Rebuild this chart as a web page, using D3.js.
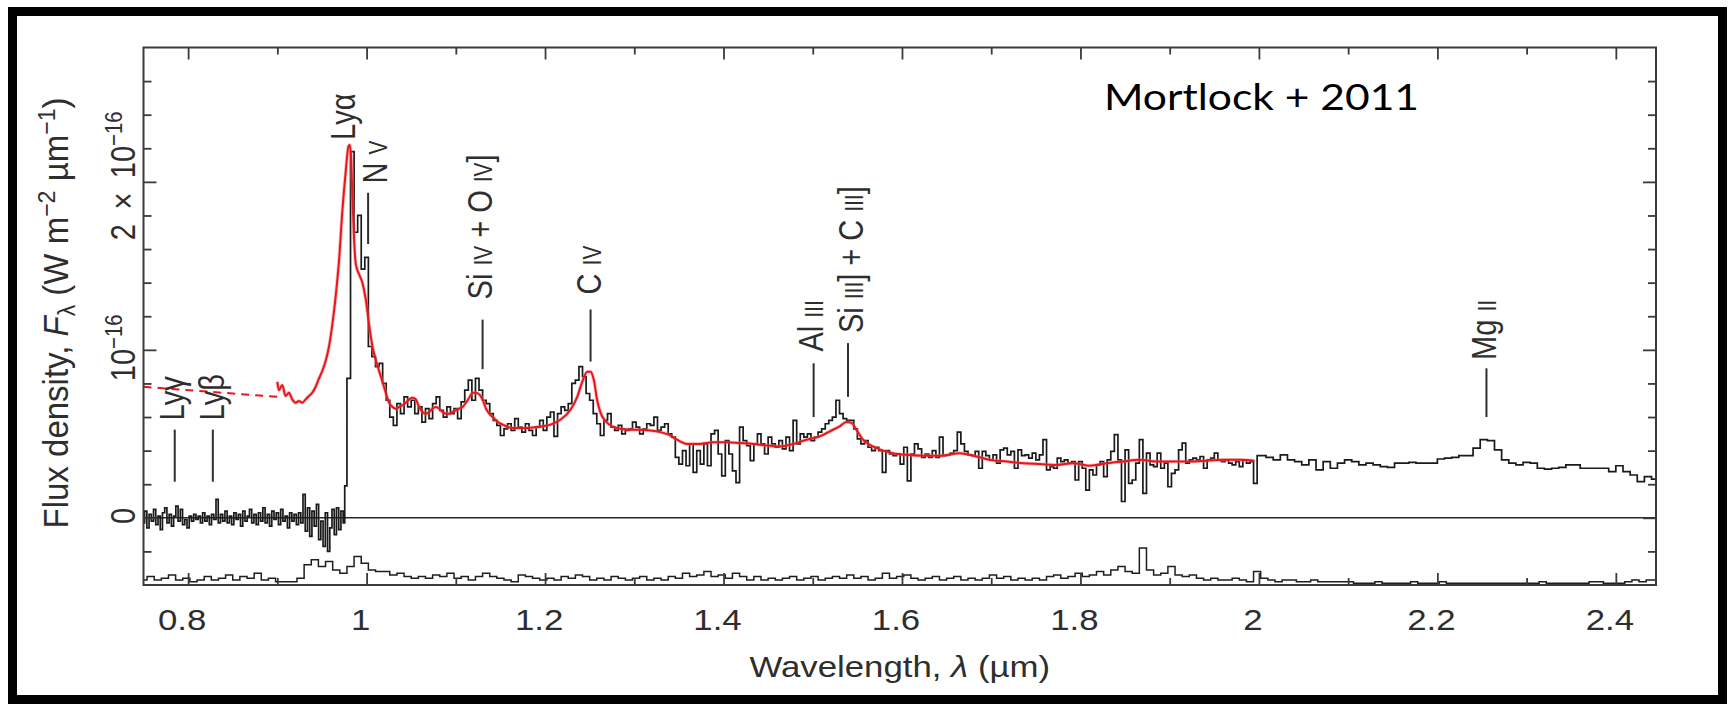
<!DOCTYPE html>
<html>
<head>
<meta charset="utf-8">
<script src="https://cdn.jsdelivr.net/npm/d3@7"></script>
<style>
  html, body { margin: 0; padding: 0; background: #fff; }
  svg { display: block; }
  .lbl { font-family: "Liberation Sans", Arial, Helvetica, sans-serif; fill: #2e2e2e; }
</style>
</head>
<body>
<svg id="chart" width="1731" height="707"></svg>
<script>
// Flux densities are in units of 1e-17 W m^-2 µm^-1, wavelengths in µm.

// optical spectrum (blueward of Lyman alpha), uniform grid
const opticalStart = 0.75, opticalStep = 0.0025;
const opticalFlux = [
  -0.3, 0.4, -0.6, 0.2, -0.2, 0.5, -0.4, 0.1, -0.7, 0.3,
  0.6, -0.3, 0.2, -0.5, 0.1, 0.7, -0.2, 0.5, -0.4, -0.1,
  -0.6, 0.1, -0.2, 0.2, -0.1, 0.1, -0.3, 0.3, -0.2, 0.1,
  -0.4, 0.2, -0.1, 1.1, -0.3, 0.2, -0.2, 0.4, -0.3, 0.1,
  -0.4, 0.3, -0.1, 0.2, -0.5, 0.4, -0.2, 0.1, 0.5, -0.3,
  0.2, -0.4, 0.3, -0.2, 0.6, -0.3, 0.2, -0.5, 0.4, -0.1,
  0.3, -0.4, 0.5, -0.2, 0.1, -0.6, 0.3, -0.2, 0.2, -0.4,
  0.3, -0.3, 1.4, -0.8, 0.6, -1.1, 0.4, -0.5, 0.8, -1.3,
  -0.2, -1.7, 0.3, -2.0, -0.6, 0.5, -1.0, 0.6, -0.7, 0.4,
  -0.3
];

// near-infrared spectrum, uniform grid
const nirStart = 0.976, nirStep = 0.004;
const nirFlux = [
  1.9, 8.3, 21.8, 17.0, 18.0, 14.8, 15.5, 10.2, 9.6, 9.0,
  9.2, 8.0, 7.0, 6.0, 5.5, 6.8, 6.2, 7.2, 6.6, 7.0,
  6.2, 6.6, 5.7, 6.5, 5.9, 6.8, 7.2, 6.4, 6.0, 6.6,
  6.2, 6.5, 5.9, 6.9, 7.6, 8.2, 7.0, 8.3, 7.6, 7.0,
  6.8, 6.2, 5.8, 5.5, 4.9, 5.3, 5.6, 5.2, 5.9, 5.4,
  5.1, 5.6, 5.2, 4.9, 5.4, 5.8, 5.2, 6.0, 6.3, 4.85,
  6.2, 6.6, 6.4, 6.8, 8.0, 8.2, 9.0, 8.4, 7.4, 7.0,
  6.2, 5.6, 4.9, 5.8, 6.2, 5.4, 5.2, 5.5, 5.0, 5.2,
  5.3, 5.7, 5.4, 5.0, 5.3, 5.6, 5.5, 6.0, 5.2, 5.4,
  5.6, 5.0, 4.8, 3.6, 3.2, 4.0, 3.1, 4.4, 2.7, 4.0,
  3.2, 4.4, 3.1, 5.0, 5.2, 3.8, 2.5, 4.6, 3.8, 2.8,
  2.1, 5.4, 4.6, 4.3, 3.4, 4.4, 5.0, 4.4, 3.8, 4.8,
  4.4, 4.2, 4.6, 4.1, 4.8, 4.0, 5.8, 4.4, 5.0, 4.8,
  5.0, 4.6, 4.8, 5.1, 5.3, 5.6, 5.8, 6.0, 7.0, 6.2,
  5.9, 5.8, 5.8, 5.3, 4.7, 4.4, 4.6, 4.2, 4.0, 4.2,
  4.0, 2.7, 4.0, 3.8, 3.7, 3.8, 3.2, 4.2, 2.2, 3.8,
  4.4, 4.1, 3.6, 3.8, 3.6, 4.0, 3.6, 4.8, 3.7, 3.75,
  3.85, 4.0, 5.1, 4.4, 3.95, 3.75, 3.7, 3.95, 2.95, 3.95,
  3.7, 3.45, 3.75, 3.25, 4.05, 4.15, 3.75, 3.95, 2.95, 4.05,
  3.7, 3.75, 3.55, 3.85, 3.45, 3.75, 4.65, 2.85, 3.05, 2.95,
  3.55, 3.35, 3.45, 3.25, 3.35, 2.25, 3.35, 2.95, 1.65, 2.85,
  2.55, 3.15, 3.35, 2.45, 3.45, 3.95, 4.95, 3.45, 0.97, 4.05,
  2.05, 2.25, 3.25, 4.65, 1.45, 3.85, 3.15, 3.05, 3.85, 2.95,
  3.25, 1.85, 2.65, 2.85, 4.05, 4.45, 3.25, 3.45, 3.55, 3.45,
  3.65, 2.95, 3.45, 3.55, 3.85, 3.45, 3.35, 3.45, 3.25, 3.15,
  3.35, 3.05, 3.45, 3.25, 3.35, 2.05, 3.7
];

// K-band spectrum, coarser grid
const kStart = 2.004, kStep = 0.008;
const kFlux = [
  3.7, 3.6, 3.45, 3.75, 3.45, 3.35, 3.15, 3.45, 2.85, 3.35,
  2.95, 3.25, 3.45, 3.35, 3.15, 3.25, 3.15, 3.05, 3.0, 3.25,
  3.25, 3.3, 3.25, 3.25, 3.25, 3.5, 3.55, 3.6, 3.7, 3.7,
  4.15, 4.65, 4.6, 4.05, 3.45, 3.25, 3.15, 3.3, 3.25, 2.95,
  2.9, 2.95, 3.0, 3.15, 3.15, 2.95, 2.95, 2.95, 2.95, 2.75,
  3.1, 2.75, 2.55, 2.15, 2.45, 2.3
];

// 1-sigma uncertainty, drawn above the lower edge of the panel
const errorBase = -4;
const errorStart = 0.75, errorStep = 0.008;
const errorFlux = [
  0.3, 0.5, 0.3, 0.4, 0.6, 0.3, 0.4, 0.2, 0.3, 0.5, 0.3,
  0.4, 0.6, 0.3, 0.5, 0.4, 0.7, 0.3, 0.4, 0.2, 0.2, 0.2, 0.4,
  1.2, 1.5, 1.1, 1.4, 0.9, 0.7, 1.1, 1.7, 1.3,
  0.9, 0.8, 0.8, 0.6, 0.7, 0.5, 0.4, 0.5, 0.4,
  0.6, 0.5, 0.7, 0.4, 0.5, 0.3, 0.5, 0.7, 0.5, 0.4,
  0.3, 0.2, 0.6, 0.5, 0.4, 0.3, 0.4, 0.3, 0.5, 0.4,
  0.6, 0.5, 0.3, 0.4, 0.3, 0.5, 0.4, 0.3, 0.4, 0.5,
  0.3, 0.4, 0.3, 0.5, 0.4, 0.7, 0.5, 0.6, 0.8, 0.5,
  0.6, 0.4, 0.7, 0.5, 0.3, 0.5, 0.3, 0.4, 0.3, 0.4,
  0.5, 0.3, 0.4, 0.5, 0.3, 0.4, 0.5, 0.4, 0.6, 0.4,
  0.5, 0.3, 0.4, 0.7, 0.4, 0.5, 0.6, 0.4, 0.3, 0.4,
  0.5, 0.3, 0.4, 0.5, 0.3, 0.4, 0.3, 0.4, 0.6, 0.4,
  0.5, 0.3, 0.4, 0.3, 0.4, 0.3, 0.5, 0.6, 0.4, 0.5,
  0.7, 0.5, 0.6, 0.8, 0.6, 0.9, 1.1, 0.8, 0.7, 2.2,
  0.9, 0.6, 0.7, 1.1, 0.6, 0.5, 0.6, 0.4, 0.3, 0.4,
  0.3, 0.3, 0.4, 0.3, 0.2, 0.8, 0.4, 0.3, 0.2, 0.3,
  0.3, 0.2, 0.2, 0.3, 0.2, 0.2, 0.2, 0.2, 0.2, 0.1,
  0.1, 0.1, 0.2, 0.1, 0.1, 0.1, 0.1, 0.2, 0.1, 0.1,
  0.1, 0.2, 0.1, 0.1, 0.1, 0.1, 0.1, 0.1, 0.1, 0.1,
  0.1, 0.1, 0.1, 0.1, 0.1, 0.2, 0.1, 0.1, 0.1, 0.1,
  0.1, 0.1, 0.2, 0.2, 0.1, 0.1, 0.1, 0.2, 0.3, 0.2, 0.3, 0.3
];

// composite quasar template (red), and its extrapolation blueward (dashed)
const modelWave = [
  0.900, 0.9018, 0.9055, 0.9093, 0.913, 0.9167, 0.9205, 0.9242, 0.928, 0.9317,
  0.9354, 0.9392, 0.9429, 0.9467, 0.9504, 0.9542, 0.9579, 0.9616, 0.9654, 0.9691,
  0.9729, 0.9766, 0.9796, 0.9811, 0.9826, 0.9841, 0.986, 0.9879, 0.9916, 0.9953,
  0.9991, 1.0028, 1.0066, 1.0103, 1.014, 1.0178, 1.0215, 1.0253, 1.029, 1.0327,
  1.0365, 1.0402, 1.044, 1.0477, 1.0514, 1.0552, 1.0589, 1.0627, 1.0664, 1.0702,
  1.0739, 1.0776, 1.0814, 1.0851, 1.0889, 1.0926, 1.0964, 1.1001, 1.1038, 1.1076,
  1.1113, 1.1151, 1.1188, 1.1225, 1.1263, 1.130, 1.1338, 1.1375, 1.1413, 1.145,
  1.1487, 1.1525, 1.1562, 1.1637, 1.1749, 1.1862, 1.1974, 1.2063, 1.2175, 1.2287,
  1.2361, 1.2417, 1.2473, 1.251, 1.2547, 1.2584, 1.2622, 1.2678, 1.2752, 1.2845,
  1.2957, 1.3068, 1.318, 1.3292, 1.3385, 1.3478, 1.359, 1.3739, 1.3888, 1.4036,
  1.4185, 1.4334, 1.4483, 1.4632, 1.4781, 1.493, 1.5079, 1.5191, 1.5302, 1.5377,
  1.5433, 1.5488, 1.5563, 1.5675, 1.5786, 1.5898, 1.6047, 1.6233, 1.642, 1.665,
  1.680, 1.6986, 1.7173, 1.736, 1.7547, 1.7733, 1.792, 1.8107, 1.8294, 1.848,
  1.8667, 1.8854, 1.904, 1.9228, 1.9414, 1.960, 1.9788, 1.995
];
const modelFlux = [
  8.1, 7.6, 7.9, 7.25, 7.45, 7.05, 6.85, 6.95, 6.85, 7.05,
  7.25, 7.45, 7.8, 8.3, 8.75, 9.35, 10.2, 11.5, 13.2, 15.3,
  18.3, 20.6, 22.1, 22.2, 21.5, 19.1, 16.6, 15.1, 14.5, 14.0,
  13.0, 11.5, 10.2, 9.4, 8.75, 8.1, 7.45, 6.85, 6.6, 6.5,
  6.6, 6.7, 6.85, 7.05, 7.15, 7.05, 6.6, 6.3, 6.2, 6.3,
  6.5, 6.6, 6.5, 6.3, 6.2, 6.2, 6.3, 6.4, 6.5, 6.6,
  6.85, 7.15, 7.45, 7.45, 7.35, 7.05, 6.5, 6.2, 6.0, 5.8,
  5.65, 5.55, 5.45, 5.35, 5.35, 5.38, 5.45, 5.55, 5.85, 6.45,
  7.2, 8.1, 8.7, 8.7, 8.2, 7.0, 6.25, 5.75, 5.45, 5.3,
  5.25, 5.25, 5.2, 5.1, 4.95, 4.65, 4.4, 4.4, 4.5, 4.5,
  4.45, 4.4, 4.3, 4.25, 4.4, 4.65, 4.85, 5.15, 5.45, 5.7,
  5.65, 5.25, 4.65, 4.25, 4.0, 3.85, 3.75, 3.7, 3.7, 3.85,
  3.7, 3.45, 3.35, 3.25, 3.2, 3.15, 3.25, 3.1, 3.25, 3.35,
  3.45, 3.35, 3.35, 3.35, 3.4, 3.45, 3.45, 3.4
];
const extrapWave = [0.75, 0.90];
const extrapFlux = [7.8, 7.2];

// axis ticks
const xTickValues = [0.8, 1.0, 1.2, 1.4, 1.6, 1.8, 2.0, 2.2, 2.4];
const xTickLabels = ["0.8", "1", "1.2", "1.4", "1.6", "1.8", "2", "2.2", "2.4"];
const xMinorTicks = [0.9, 1.1, 1.3, 1.5, 1.7, 1.9, 2.1, 2.3];
const yTickValues = [0, 10, 20];
const yTickMantissa = ["0", "10", "2\u2002×\u200210"];
const yTickExponent = ["", "−16", "−16"];
const yMinorTicks = [-2, 2, 4, 6, 8, 12, 14, 16, 18, 22, 24, 26];

// emission / absorption line identifications: [text, smallCaps]
const lineText = [
  [["Lyγ", 0]],
  [["Lyβ", 0]],
  [["Lyα", 0]],
  [["N ", 0], ["V", 1]],
  [["Si ", 0], ["IV", 1], [" + O ", 0], ["IV", 1], ["]", 0]],
  [["C ", 0], ["IV", 1]],
  [["Al ", 0], ["III", 1]],
  [["Si ", 0], ["III", 1], ["] + C ", 0], ["III", 1], ["]", 0]],
  [["Mg ", 0], ["II", 1]]
];
const lineLabelWave = [0.781, 0.826, 0.973, 1.009, 1.127, 1.249, 1.497, 1.542, 2.252];
const lineMarkWave  = [0.785, 0.8277, null, 1.0017, 1.130, 1.251, 1.501, 1.5395, 2.255];
const lineMarkFrom  = [2.15, 2.15, null, 16.3, 8.85, 9.3, 6.0, 7.2, 6.0];
const lineMarkTo    = [5.25, 5.25, null, 19.35, 11.8, 12.4, 9.2, 10.4, 8.9];
const lineLabelFrom = [5.8, 5.8, 22.5, 19.9, 13.0, 13.3, 9.9, 11.0, 9.4];

const citation = "Mortlock + 2011";

// ---------------------------------------------------------------
const svg = d3.select("#chart");
const FS = 29;          // base font size
const SX = 1.2;         // horizontal glyph stretch of the figure lettering

const x = d3.scaleLinear().domain([0.75, 2.445]).range([143.5, 1656]);
const y = d3.scaleLinear().domain([-4, 28]).range([585, 47.5]);
const [x0, x1] = x.range();
const [yb, yt] = y.range();

svg.append("rect").attr("width", 1731).attr("height", 707).attr("fill", "#fff");

svg.append("defs").append("clipPath").attr("id", "plotClip")
  .append("rect").attr("x", x0).attr("y", yt).attr("width", x1 - x0).attr("height", yb - yt);

const plot = svg.append("g").attr("clip-path", "url(#plotClip)");

const grid = (start, step, vals) => vals.map((v, i) => [start + i * step, v]);
const spectrum = [
  ...grid(opticalStart, opticalStep, opticalFlux),
  ...grid(nirStart, nirStep, nirFlux),
  ...grid(kStart, kStep, kFlux)
];
const errorSpec = grid(errorStart, errorStep, errorFlux).map(d => [d[0], errorBase + d[1]]);

// zero level
plot.append("line")
  .attr("x1", x(0.75)).attr("x2", x(2.445))
  .attr("y1", y(0)).attr("y2", y(0))
  .attr("stroke", "#2a2a2a").attr("stroke-width", 1.6);

const stepLine = d3.line().x(d => x(d[0])).y(d => y(d[1])).curve(d3.curveStep);

plot.append("path").datum(errorSpec)
  .attr("d", stepLine).attr("fill", "none")
  .attr("stroke", "#1e1e1e").attr("stroke-width", 1.5);

plot.append("path").datum(spectrum)
  .attr("d", stepLine).attr("fill", "none")
  .attr("stroke", "#1a1a1a").attr("stroke-width", 1.7).attr("stroke-linejoin", "miter");

const smooth = d3.line().x(d => x(d[0])).y(d => y(d[1])).curve(d3.curveMonotoneX);
const model = modelWave.map((w, i) => [w, modelFlux[i]]);
const extrap = extrapWave.map((w, i) => [w, extrapFlux[i]]);

plot.append("path").datum(model)
  .attr("d", smooth).attr("fill", "none")
  .attr("stroke", "#f07070").attr("stroke-width", 3.6).attr("stroke-opacity", 0.45);
plot.append("path").datum(model)
  .attr("d", smooth).attr("fill", "none")
  .attr("stroke", "#e8161b").attr("stroke-width", 2);
plot.append("path").datum(extrap)
  .attr("d", smooth).attr("fill", "none")
  .attr("stroke", "#e8161b").attr("stroke-width", 2).attr("stroke-dasharray", "8,6");

// line identification markers and names
const ids = svg.append("g");
lineText.forEach((parts, i) => {
  if (lineMarkWave[i] !== null) {
    ids.append("line")
      .attr("x1", x(lineMarkWave[i])).attr("x2", x(lineMarkWave[i]))
      .attr("y1", y(lineMarkFrom[i])).attr("y2", y(lineMarkTo[i]))
      .attr("stroke", "#2e2e2e").attr("stroke-width", 2);
  }
  const t = ids.append("text").attr("class", "lbl")
    .attr("transform", `translate(${x(lineLabelWave[i])},${y(lineLabelFrom[i])}) scale(${SX},1) rotate(-90)`)
    .attr("dy", "0.36em").attr("font-size", FS).attr("text-anchor", "start");
  parts.forEach(p => {
    t.append("tspan").attr("font-size", p[1] ? FS * 0.72 : FS).text(p[0]);
  });
});

// axes: inward ticks on all four sides
const frame = svg.append("g");
function ticks(axisGen, values, size, transform) {
  const g = frame.append("g").attr("transform", transform)
    .call(axisGen.tickValues(values).tickSize(-size).tickFormat(""));
  g.select(".domain").remove();
  g.selectAll(".tick line").attr("stroke", "#3a3a3a").attr("stroke-width", 1.8);
}
ticks(d3.axisBottom(x), xTickValues, 12, `translate(0,${yb})`);
ticks(d3.axisBottom(x), xMinorTicks, 7, `translate(0,${yb})`);
ticks(d3.axisTop(x), xTickValues, 12, `translate(0,${yt})`);
ticks(d3.axisTop(x), xMinorTicks, 7, `translate(0,${yt})`);
ticks(d3.axisLeft(y), yTickValues, 13, `translate(${x0},0)`);
ticks(d3.axisLeft(y), yMinorTicks, 8, `translate(${x0},0)`);
ticks(d3.axisRight(y), yTickValues, 13, `translate(${x1},0)`);
ticks(d3.axisRight(y), yMinorTicks, 8, `translate(${x1},0)`);

frame.append("rect")
  .attr("x", x0).attr("y", yt).attr("width", x1 - x0).attr("height", yb - yt)
  .attr("fill", "none").attr("stroke", "#3a3a3a").attr("stroke-width", 2);

// x tick labels
xTickValues.forEach((v, i) => {
  frame.append("text").attr("class", "lbl")
    .attr("transform", `translate(${x(v) - 6},630) scale(${SX},1)`)
    .attr("text-anchor", "middle").attr("font-size", FS)
    .text(xTickLabels[i]);
});

// y tick labels (rotated)
yTickValues.forEach((v, i) => {
  const t = frame.append("text").attr("class", "lbl")
    .attr("transform", `translate(135,${y(v) - (i === 2 ? 6 : 2)}) scale(${SX},1) rotate(-90)`)
    .attr("text-anchor", "middle").attr("font-size", FS);
  t.append("tspan").text(yTickMantissa[i]);
  if (yTickExponent[i]) {
    t.append("tspan").attr("font-size", FS * 0.7).attr("dy", -11).text(yTickExponent[i]);
  }
});

// axis titles
const xt = frame.append("text").attr("class", "lbl")
  .attr("transform", `translate(${(x0 + x1) / 2},677) scale(${SX},1)`)
  .attr("text-anchor", "middle").attr("font-size", FS);
xt.append("tspan").text("Wavelength, ");
xt.append("tspan").attr("font-style", "italic").text("λ");
xt.append("tspan").text(" (µm)");

const FY = 33;
const yTitle = frame.append("text").attr("class", "lbl")
  .attr("transform", `translate(68,313) scale(1.06,1) rotate(-90)`)
  .attr("text-anchor", "middle").attr("font-size", FY);
yTitle.append("tspan").text("Flux density, ");
yTitle.append("tspan").attr("font-style", "italic").text("F");
yTitle.append("tspan").attr("font-size", FY * 0.7).attr("dy", 7).text("λ");
yTitle.append("tspan").attr("dy", -7).text(" (W m");
yTitle.append("tspan").attr("font-size", FY * 0.7).attr("dy", -12).text("−2");
yTitle.append("tspan").attr("dy", 12).text(" µm");
yTitle.append("tspan").attr("font-size", FY * 0.7).attr("dy", -12).text("−1");
yTitle.append("tspan").attr("dy", 12).text(")");

// citation
svg.append("text")
  .attr("x", 1104).attr("y", 110)
  .attr("font-family", "Lato, 'Open Sans', sans-serif").attr("font-size", 37)
  .attr("fill", "#000").attr("textLength", 315).attr("lengthAdjust", "spacingAndGlyphs")
  .text(citation);

// outer border
svg.append("rect")
  .attr("x", 12.5).attr("y", 11.5).attr("width", 1710).attr("height", 688)
  .attr("fill", "none").attr("stroke", "#000").attr("stroke-width", 9);
</script>
</body>
</html>
